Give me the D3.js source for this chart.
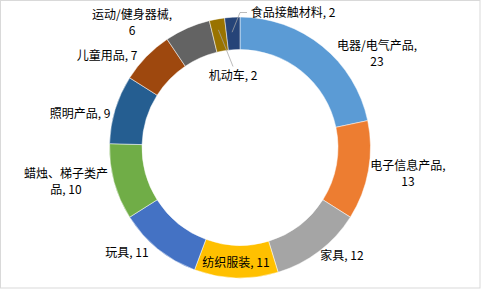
<!DOCTYPE html>
<html>
<head>
<meta charset="utf-8">
<script src="https://cdn.jsdelivr.net/npm/d3@7"></script>
<style>
  html, body { margin: 0; padding: 0; background: #fff; }
  svg { display: block; }
  text { font-family: "Noto Sans CJK SC", "Noto Sans", sans-serif; font-size: 12px; fill: #000; }
</style>
</head>
<body>
<div id="chart"></div>
<script>
// categories and values, clockwise from 12 o'clock
const categories = ["电器/电气产品", "电子信息产品", "家具", "纺织服装", "玩具",
                    "蜡烛、梯子类产品", "照明产品", "儿童用品", "运动/健身器械", "机动车", "食品接触材料"];
const counts = [23, 13, 12, 11, 11, 10, 9, 7, 6, 2, 2];
const palette = ["#5B9BD5", "#ED7D31", "#A5A5A5", "#FFC000", "#4472C4",
                 "#70AD47", "#255E91", "#9E480E", "#636363", "#997300", "#264478"];

// label text lines (Excel wraps some of them)
const labelLines = [
  ["电器/电气产品,", "23"], ["电子信息产品,", "13"], ["家具, 12"], ["纺织服装, 11"], ["玩具, 11"],
  ["蜡烛、梯子类产", "品, 10"], ["照明产品, 9"], ["儿童用品, 7"], ["运动/健身器械,", "6"],
  ["机动车, 2"], ["食品接触材料, 2"]
];

const width = 481, height = 289;
const cx = 240, cy = 147.5;
const outerR = 130.5, innerR = 98;
const lineGap = 16;

// label anchors, offset from centre (best-fit placement as in the original)
const labelLayout = [
  {dx: 137, dy: -94}, {dx: 168, dy: 26}, {dx: 102, dy: 108}, {dx: -4, dy: 115},
  {dx: -113, dy: 105}, {dx: -174, dy: 34}, {dx: -160, dy: -34}, {dx: -133, dy: -92},
  {dx: -108, dy: -125}, {dx: -7, dy: -72}, {dx: 53, dy: -135}
];

const data = categories.map((c, i) => ({name: c, value: counts[i], color: palette[i]}));

const svg = d3.select("#chart").append("svg")
  .attr("width", width).attr("height", height);

svg.append("rect")
  .attr("x", 0.5).attr("y", 0.5)
  .attr("width", width - 1.5).attr("height", height - 1.5)
  .attr("fill", "#fff").attr("stroke", "#d9d9d9");

const g = svg.append("g").attr("transform", `translate(${cx},${cy})`);

const pie = d3.pie().sort(null).value(d => d.value);
const arc = d3.arc().innerRadius(innerR).outerRadius(outerR);
const arcs = pie(data);

g.selectAll("path.slice").data(arcs).enter().append("path")
  .attr("class", "slice")
  .attr("d", arc)
  .attr("fill", d => d.data.color)
  .attr("stroke", "#fff")
  .attr("stroke-width", 0.5);

// leader lines for the two thin slices
const leaderArc = d3.arc().innerRadius(outerR - 14).outerRadius(outerR - 14);
const lastTwo = arcs.slice(-2);
lastTwo.forEach((a, k) => {
  const i = arcs.length - 2 + k;
  const p = leaderArc.centroid(a);
  const L = labelLayout[i];
  let pts;
  if (k === 0) {
    // 机动车: line into the hole, towards the label
    pts = [[p[0] - 1, p[1] - 3], [L.dx, L.dy - 9]];
  } else {
    // 食品接触材料: up and then across to the label
    pts = [[p[0] - 1, p[1] + 1], [0, L.dy], [L.dx - 46, L.dy]];
  }
  g.append("path")
    .attr("d", d3.line()(pts))
    .attr("fill", "none")
    .attr("stroke", "#a6a6a6")
    .attr("stroke-width", 0.75);
});

// labels
arcs.forEach((a, i) => {
  const L = labelLayout[i];
  const lines = labelLines[i];
  const t = g.append("text")
    .attr("text-anchor", "middle")
    .attr("x", L.dx).attr("y", L.dy);
  const first = -(lines.length - 1) * lineGap / 2;
  lines.forEach((ln, j) => {
    t.append("tspan")
      .attr("x", L.dx)
      .attr("y", L.dy + first + j * lineGap)
      .attr("dy", "0.35em")
      .text(ln);
  });
});
</script>
</body>
</html>
